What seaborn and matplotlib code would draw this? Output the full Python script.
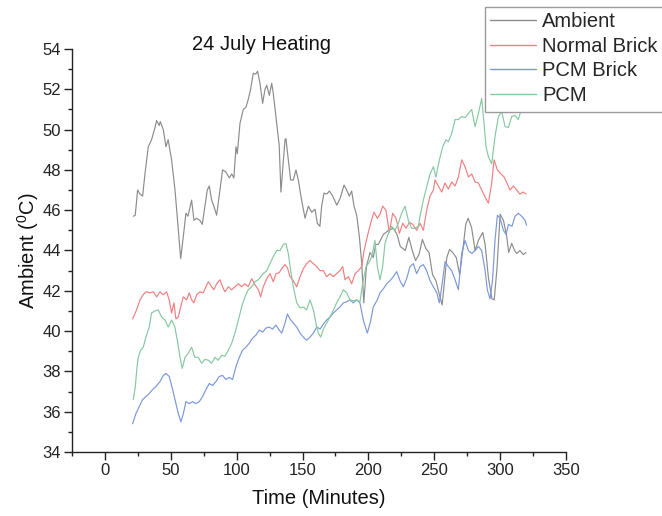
import numpy as np
import pandas as pd
import matplotlib
matplotlib.use("Agg")
import matplotlib.pyplot as plt
from matplotlib.ticker import MultipleLocator
from matplotlib.patches import Rectangle
import seaborn as sns

# ---- data ----
series_names = ["Ambient", "Normal Brick", "PCM Brick", "PCM"]

ambient_t = [21.5, 23.0, 24.8, 26.6, 28.6, 30.4, 32.9, 35.4, 38.0, 39.2, 41.2, 42.0, 44.3, 46.3, 48.0,
             50.6, 53.2, 55.7, 57.5, 59.5, 61.5, 63.0, 65.8, 67.6, 69.6, 72.0, 73.9, 75.9, 77.7, 79.2,
             81.0, 82.7, 84.8, 87.3, 89.3, 91.8, 94.4, 96.2, 97.9, 99.5, 100.5, 102.5, 105.0, 107.0,
             108.8, 110.6, 112.6, 114.4, 115.9, 117.7, 119.7, 121.5, 122.8, 124.8, 126.6, 127.8, 129.8,
             132.3, 133.6, 136.7, 137.4, 139.2, 141.0, 143.0, 145.0, 146.8, 149.3, 151.9, 154.4, 157.0,
             159.5, 161.2, 163.2, 164.5, 166.3, 168.3, 170.4, 172.9, 176.0, 178.6, 181.5, 183.5, 185.5,
             187.3, 189.1, 191.1, 193.1, 194.9, 196.5, 198.5, 201.2, 203.7, 205.5, 207.5, 211.4, 215.3,
             219.0, 221.7, 224.2, 228.0, 230.7, 233.3, 235.8, 238.4, 241.0, 243.6, 246.0, 248.7, 251.3,
             253.9, 256.0, 257.8, 259.5, 261.6, 264.0, 266.7, 269.3, 271.8, 273.9, 275.7, 278.3, 281.0,
             283.5, 286.8, 288.6, 291.2, 293.8, 295.5, 297.6, 300.0, 302.5, 305.0, 306.5, 308.8, 311.0,
             312.6, 315.0, 317.6, 319.5]
ambient_v = [45.7, 45.75, 47.0, 46.8, 46.7, 47.8, 49.15, 49.5, 50.1, 50.45, 50.2, 50.4, 50.0, 49.15, 49.5,
             48.5, 47.0, 45.0, 43.6, 44.7, 45.85, 45.7, 46.5, 45.5, 45.6, 45.5, 45.3, 46.2, 47.0, 47.2,
             46.5, 46.2, 45.75, 47.0, 48.0, 47.9, 47.6, 47.8, 47.6, 49.15, 48.8, 50.3, 51.0, 51.1,
             51.5, 52.0, 52.8, 52.75, 52.9, 52.3, 51.3, 52.0, 52.2, 51.7, 52.3, 51.8, 50.65,
             49.2, 46.9, 49.5, 49.55, 48.5, 47.5, 47.5, 48.0, 47.5, 46.5, 45.6, 46.2, 45.9,
             46.05, 45.35, 45.2, 46.2, 46.85, 46.8, 46.95, 46.7, 46.25, 46.6, 47.25, 47.0, 46.7,
             46.95, 46.2, 45.75, 44.7, 43.4, 41.4, 43.2, 43.9, 43.65, 44.3, 44.3, 44.8, 45.0,
             45.1, 44.8, 44.2, 44.0, 44.65, 44.0, 43.5, 43.8, 44.55, 44.1, 43.9, 42.8, 42.5,
             41.8, 41.3, 42.5, 43.65, 44.05, 43.9, 43.65, 42.8, 44.1, 45.3, 45.6, 45.15, 44.0,
             44.5, 44.9, 44.3, 42.6, 41.6, 41.55, 43.1, 45.8, 45.5, 44.7, 43.9, 44.35, 44.0,
             43.85, 44.0, 43.8, 43.9]

normal_t = [21.0, 24.0, 26.6, 29.0, 31.1, 34.2, 36.7, 39.2, 41.8, 44.3, 46.8, 48.8, 50.6, 52.4, 53.9,
            55.7, 57.5, 59.5, 62.0, 64.0, 65.8, 67.5, 69.6, 72.0, 74.6, 76.7, 78.5, 81.0, 82.7, 84.8,
            87.3, 89.3, 91.1, 93.7, 96.2, 98.7, 101.3, 103.8, 106.3, 108.8, 111.4, 113.9, 116.5, 118.2,
            120.2, 122.8, 125.3, 127.8, 129.8, 132.3, 134.2, 136.7, 138.5, 140.5, 143.0, 145.6, 148.1,
            150.6, 153.1, 155.7, 158.2, 160.8, 163.3, 165.8, 168.3, 170.9, 173.4, 175.9, 178.4, 180.5,
            182.2, 184.8, 187.3, 189.9, 192.4, 194.9, 196.7, 199.2, 201.7, 204.2, 206.8, 208.8, 210.8,
            213.3, 215.9, 218.4, 221.0, 223.5, 226.1, 228.6, 231.1, 233.6, 236.7, 239.2, 241.7, 244.2,
            246.8, 249.3, 250.6, 253.1, 255.7, 258.2, 260.7, 263.3, 265.8, 268.3, 270.8, 273.4, 275.9,
            278.4, 281.0, 283.5, 286.0, 288.6, 291.1, 293.6, 295.4, 297.9, 300.5, 303.0, 305.5, 307.5,
            310.0, 312.6, 315.0, 317.6, 319.7]
normal_v = [40.6, 41.05, 41.55, 41.8, 41.95, 41.9, 41.95, 41.7, 41.95, 41.8, 41.95, 41.55, 40.9, 41.4, 40.6,
            40.7, 41.2, 41.7, 41.55, 41.9, 41.55, 41.4, 41.8, 41.95, 41.9, 42.2, 42.45, 42.2, 42.05, 42.35,
            42.55, 42.2, 41.95, 42.2, 42.05, 42.2, 42.35, 42.2, 42.35, 42.2, 42.6, 42.3, 42.05, 41.7,
            42.2, 42.6, 42.85, 42.45, 42.85, 42.9, 43.1, 43.3, 43.15, 42.7, 42.5, 42.2, 42.7,
            43.1, 43.35, 43.5, 43.35, 43.2, 43.0, 43.0, 42.7, 42.85, 42.7, 42.85, 43.0, 43.2,
            42.55, 42.7, 42.35, 42.85, 43.0, 43.2, 44.0, 44.7, 45.35, 45.9, 45.6, 45.8, 46.2,
            46.0, 44.9, 45.85, 45.6, 44.85, 45.35, 45.1, 45.4, 45.3, 45.0, 45.35, 45.0, 46.0,
            46.7, 47.0, 47.5, 47.2, 46.9, 47.35, 47.05, 47.4, 47.2, 47.65, 48.5, 48.15, 47.65,
            47.8, 47.4, 47.35, 47.0, 46.65, 46.35, 47.35, 48.5, 48.0, 47.8, 47.65, 47.3, 47.0,
            47.2, 47.0, 46.8, 46.9, 46.8]

pcmbrick_t = [21.0, 23.5, 26.0, 28.6, 31.1, 33.6, 36.2, 38.7, 41.8, 44.3, 46.3, 48.8, 51.4, 53.9, 55.7,
              57.7, 59.5, 61.5, 64.0, 66.6, 69.1, 71.6, 74.1, 76.7, 79.2, 81.7, 84.3, 86.8, 89.3, 91.8,
              94.4, 96.9, 99.5, 102.0, 104.5, 107.0, 109.6, 112.1, 114.6, 117.2, 119.7, 122.2, 124.7,
              127.2, 129.8, 132.3, 134.2, 136.7, 138.5, 140.5, 143.0, 145.6, 148.1, 150.6, 153.1, 155.7,
              158.2, 160.8, 163.3, 165.8, 168.3, 170.9, 173.4, 175.9, 178.4, 181.0, 183.5, 186.0, 188.5,
              191.1, 193.6, 196.1, 199.2, 201.7, 203.7, 206.8, 208.8, 211.4, 213.9, 216.4, 218.9, 221.5,
              224.0, 226.5, 229.0, 231.6, 234.1, 236.6, 239.2, 241.7, 244.2, 246.8, 249.3, 251.9, 253.9,
              256.4, 258.2, 260.7, 263.2, 265.8, 268.3, 270.8, 273.4, 275.9, 278.4, 281.0, 283.5, 286.0,
              288.6, 290.3, 292.3, 294.2, 296.1, 297.9, 300.0, 302.5, 304.5, 306.3, 309.0, 311.3, 313.8,
              316.3, 318.9, 320.1]
pcmbrick_v = [35.4, 35.9, 36.25, 36.6, 36.75, 36.9, 37.1, 37.25, 37.5, 37.8, 37.9, 37.75, 37.1, 36.4, 35.9,
              35.5, 35.9, 36.5, 36.4, 36.5, 36.4, 36.5, 36.75, 37.1, 37.4, 37.3, 37.5, 37.75, 37.8, 37.6,
              37.7, 37.6, 38.25, 38.7, 39.05, 39.2, 39.4, 39.65, 39.8, 40.05, 39.95, 40.15, 40.2,
              40.1, 40.3, 40.05, 39.9, 40.4, 40.85, 40.6, 40.4, 40.2, 39.9, 39.7, 39.55, 39.7,
              39.9, 40.2, 40.1, 40.35, 40.55, 40.7, 40.9, 41.05, 41.2, 41.4, 41.45, 41.55, 41.4,
              41.55, 41.4, 40.55, 39.9, 40.5, 41.2, 41.55, 41.9, 42.1, 42.35, 42.5, 42.7, 42.95,
              42.5, 42.2, 42.6, 43.2, 43.35, 42.85, 43.2, 43.3, 43.0, 42.5, 42.2, 41.9, 41.4,
              42.55, 43.45, 43.2, 43.0, 42.55, 42.05, 43.85, 44.5, 44.0, 43.85, 44.0, 44.2, 44.0,
              43.0, 42.05, 41.6, 42.5, 44.5, 45.75, 45.6, 45.0, 44.8, 45.3, 45.2, 45.7, 45.85,
              45.7, 45.5, 45.25]

pcm_t = [21.5, 23.0, 24.3, 25.3, 27.1, 29.1, 31.1, 33.6, 35.4, 38.0, 40.5, 43.0, 45.6, 48.0, 50.6,
         53.1, 54.9, 57.0, 58.7, 60.8, 63.3, 65.8, 68.3, 70.8, 73.4, 75.9, 78.5, 81.0, 83.5, 86.0,
         88.6, 91.1, 93.7, 96.2, 98.7, 101.3, 103.8, 106.3, 108.8, 111.4, 113.9, 116.5, 118.2, 120.2,
         122.8, 125.3, 127.8, 130.4, 132.9, 135.4, 137.4, 139.2, 141.0, 143.0, 145.6, 148.1, 150.6,
         153.1, 155.7, 158.2, 160.8, 162.0, 163.8, 165.8, 168.3, 170.9, 173.4, 175.9, 178.4, 181.0,
         183.5, 186.0, 188.5, 191.1, 193.6, 195.6, 198.2, 200.5, 202.5, 205.0, 206.8, 208.8, 210.8,
         212.6, 215.1, 217.7, 220.2, 222.7, 225.2, 227.8, 230.3, 232.9, 235.4, 237.9, 239.2, 241.7,
         244.2, 246.8, 249.3, 251.3, 253.9, 256.4, 258.9, 260.7, 263.2, 265.8, 268.3, 270.8, 273.4,
         275.9, 278.4, 281.0, 283.5, 286.0, 287.8, 289.3, 291.1, 293.6, 296.1, 298.7, 301.2, 303.7,
         306.2, 308.8, 311.3, 313.8, 315.6, 318.0]
pcm_v = [36.6, 37.2, 38.2, 38.7, 39.05, 39.2, 39.7, 40.2, 40.9, 41.0, 41.05, 40.7, 40.55, 40.2, 40.55,
         40.2, 39.55, 38.7, 38.15, 38.7, 38.9, 39.2, 38.7, 38.7, 38.4, 38.6, 38.55, 38.4, 38.7, 38.55,
         38.8, 38.75, 39.05, 39.4, 39.9, 40.55, 41.2, 41.7, 42.05, 42.2, 42.45, 42.55, 42.7, 42.85,
         43.0, 43.35, 43.7, 44.0, 44.0, 44.3, 44.35, 43.85, 43.0, 42.2, 41.4, 41.15, 41.2,
         41.05, 41.55, 41.05, 40.2, 39.9, 39.7, 40.1, 40.4, 40.7, 41.05, 41.4, 41.7, 42.05,
         41.9, 41.55, 41.5, 41.55, 41.45, 42.35, 43.2, 43.4, 43.7, 44.5, 43.2, 42.55, 43.2,
         44.35, 44.85, 45.2, 45.0, 45.35, 45.85, 46.2, 45.5, 45.1, 45.1, 45.2, 45.7, 46.5,
         47.15, 47.8, 48.15, 47.65, 48.5, 49.15, 49.5, 49.4, 49.8, 50.5, 50.5, 50.65, 50.6,
         50.8, 51.0, 50.15, 50.8, 51.55, 50.3, 49.15, 48.65, 48.3, 49.65, 50.65, 50.9, 50.15,
         50.1, 50.65, 50.7, 50.5, 50.9, 51.0]

x_ticks = [0, 50, 100, 150, 200, 250, 300, 350]
y_ticks = [34, 36, 38, 40, 42, 44, 46, 48, 50, 52, 54]

colors = {"Ambient": "#8c8c8c", "Normal Brick": "#f07f7f",
          "PCM Brick": "#7b98dc", "PCM": "#86c9a0"}

frames = []
for name, t, v in [("Ambient", ambient_t, ambient_v), ("Normal Brick", normal_t, normal_v),
                   ("PCM Brick", pcmbrick_t, pcmbrick_v), ("PCM", pcm_t, pcm_v)]:
    frames.append(pd.DataFrame({"Time": t, "Temp": v, "Series": name}))
df = pd.concat(frames, ignore_index=True)

sns.set_style("ticks")
plt.rcParams["font.family"] = ["Liberation Sans", "DejaVu Sans"]
plt.rcParams["mathtext.fontset"] = "custom"
plt.rcParams["mathtext.rm"] = "Liberation Sans"

fig = plt.figure(figsize=(6.62, 5.16), dpi=100)
ax = fig.add_axes([72 / 662, 1 - 452 / 516, (566 - 72) / 662, (452 - 49) / 516])

sns.lineplot(data=df, x="Time", y="Temp", hue="Series", hue_order=series_names,
             palette=colors, estimator=None, sort=True, linewidth=0.85, ax=ax)

ax.set_xlim(-25, 350)
ax.set_ylim(34, 54)
ax.set_xticks(x_ticks)
ax.set_yticks(y_ticks)
ax.xaxis.set_minor_locator(MultipleLocator(25))
ax.yaxis.set_minor_locator(MultipleLocator(1))
ax.tick_params(axis="both", which="major", direction="out", length=5.5, width=1,
               labelsize=12, colors="#222222", pad=2.5)
ax.tick_params(axis="both", which="minor", direction="out", length=3, width=1, colors="#222222")
for s in ["top", "right"]:
    ax.spines[s].set_visible(False)
for s in ["left", "bottom"]:
    ax.spines[s].set_linewidth(1)
    ax.spines[s].set_color("#222222")

ax.set_xlabel("Time (Minutes)", fontsize=14.5, color="#111111", labelpad=8)
ax.set_ylabel("Ambient ($\\mathregular{^{0}}$C)", fontsize=14.5, color="#111111", labelpad=1)

fig.text(261 / 662, 1 - 44 / 516, "24 July Heating", ha="center", va="center",
         fontsize=14.5, color="#111111")

# legend box: left/top/bottom edges visible, right side runs past the figure edge
box = Rectangle((485 / 662, 1 - 112 / 516), 0.5, 105 / 516, transform=fig.transFigure,
                facecolor="white", edgecolor="#9a9a9a", linewidth=1.0, zorder=4)
fig.patches.append(box)

handles, labels = ax.get_legend_handles_labels()
ax.get_legend().remove()
leg = fig.legend(handles, labels, loc="upper left", bbox_to_anchor=(486 / 662, 1 - 8 / 516),
                 fontsize=14.5, frameon=False, borderpad=0.2,
                 handlelength=2.3, handletextpad=0.3, labelspacing=0.28, borderaxespad=0)
leg.set_zorder(5)
for h in leg.get_lines():
    h.set_linewidth(1.0)

fig.savefig("out.png", dpi=100)
